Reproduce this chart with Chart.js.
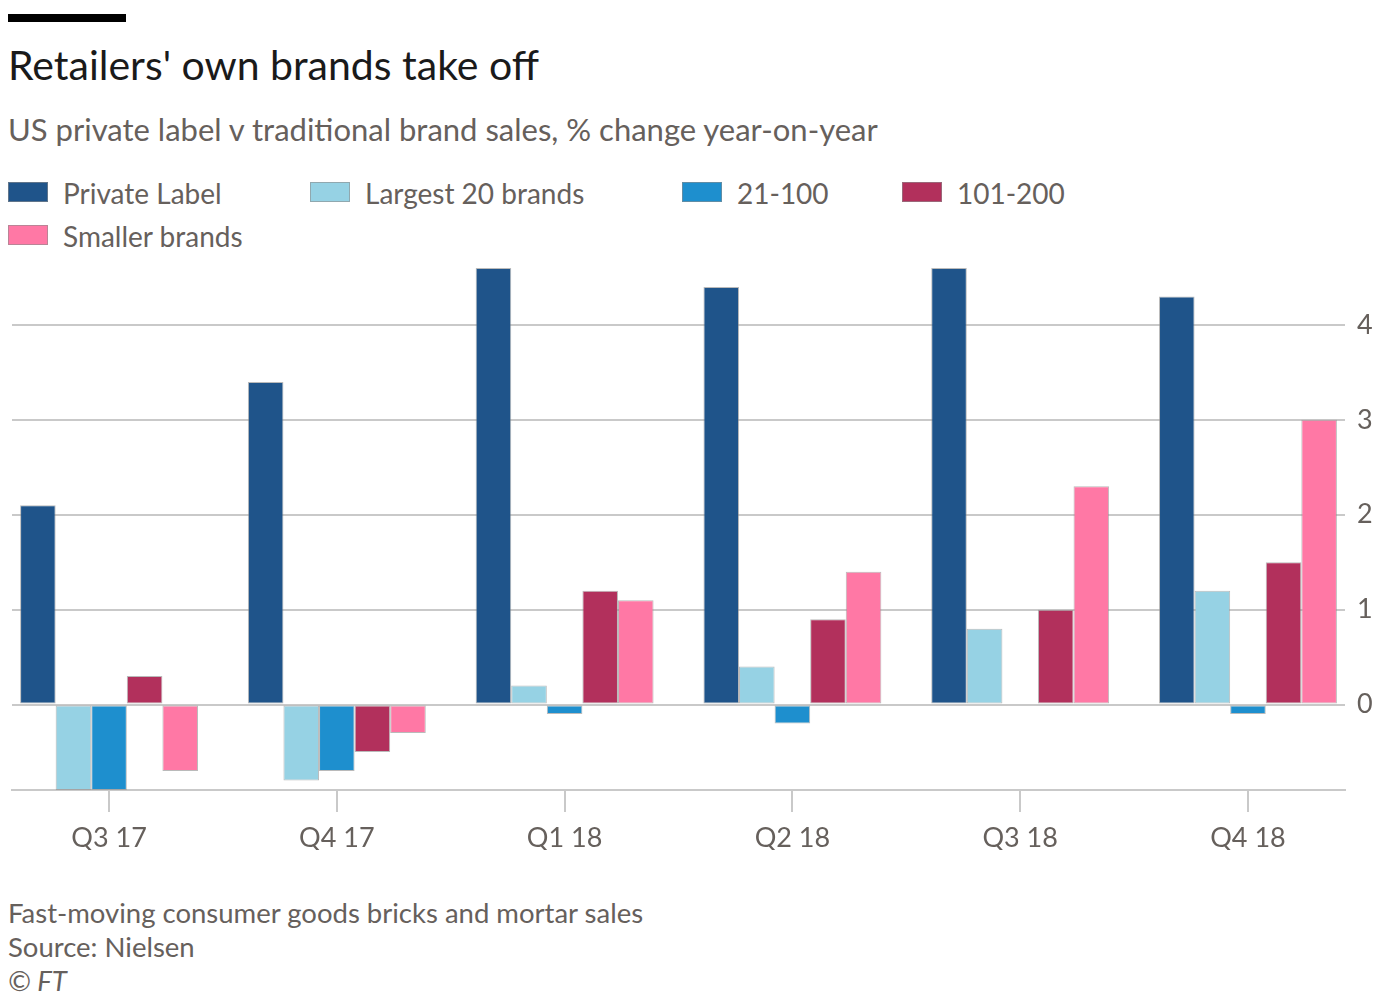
<!DOCTYPE html>
<html>
<head>
<meta charset="utf-8">
<script src="https://cdn.jsdelivr.net/npm/chart.js@4/dist/chart.umd.min.js"></script>
<style>
    body { margin: 0; background: #fff; width: 1378px; height: 993px; position: relative; overflow: hidden;
           font-family: Lato, "Open Sans", sans-serif; color: #66605c; }
    .abs { position: absolute; white-space: nowrap; line-height: 1; }
    #bar { left: 8px; top: 14px; width: 118px; height: 8px; background: #000; }
    #title { left: 8px; top: 44px; font-size: 41px; color: #1a1a1a; }
    #subtitle { left: 8px; top: 114px; font-size: 31px; }
    .key { position: absolute; font-size: 28px; line-height: 1; white-space: nowrap; }
    .key i { position: absolute; left: 0; top: 3px; width: 40px; height: 20px; box-sizing: border-box;
             border: 1px solid rgba(140,140,140,0.6); }
    .key span { position: absolute; left: 55px; top: 0; }
    .note { left: 8px; font-size: 27.5px; }
    #wrap { position: absolute; left: 0; top: 250px; width: 1378px; height: 600px; }
</style>
</head>
<body>
<div id="bar" class="abs"></div>
<div id="title" class="abs">Retailers' own brands take off</div>
<div id="subtitle" class="abs">US private label v traditional brand sales, % change year-on-year</div>
<div id="legend"></div>
<div id="wrap"><canvas id="chart"></canvas></div>
<div class="abs note" style="top:899px">Fast-moving consumer goods bricks and mortar sales</div>
<div class="abs note" style="top:933px">Source: Nielsen</div>
<div class="abs note" style="top:967px; font-style: italic">© FT</div>

<script>
// 季度
const quarters = ['Q3 17', 'Q4 17', 'Q1 18', 'Q2 18', 'Q3 18', 'Q4 18'];

// 同比变化 %
const privateLabel = [2.1, 3.4, 4.6, 4.4, 4.6, 4.3];
const largest20 = [-0.9, -0.8, 0.2, 0.4, 0.8, 1.2];
const brands21to100 = [-0.9, -0.7, -0.1, -0.2, 0, -0.1];
const brands101to200 = [0.3, -0.5, 1.2, 0.9, 1.0, 1.5];
const smallerBrands = [-0.7, -0.3, 1.1, 1.4, 2.3, 3.0];

const yTicks = [0, 1, 2, 3, 4];

const seriesNames = ['Private Label', 'Largest 20 brands', '21-100', '101-200', 'Smaller brands'];
const seriesColors = ['#1f548a', '#96d2e4', '#1e8fce', '#b2305c', '#ff78a5'];
const seriesValues = [privateLabel, largest20, brands21to100, brands101to200, smallerBrands];

// 图例位置 (HTML)
const legendPos = [[8, 179], [310, 179], [682, 179], [902, 179], [8, 222]];
const legendEl = document.getElementById('legend');
seriesNames.forEach((name, i) => {
    const div = document.createElement('div');
    div.className = 'key';
    div.style.left = legendPos[i][0] + 'px';
    div.style.top = legendPos[i][1] + 'px';
    div.innerHTML = `<i style="background:${seriesColors[i]}"></i><span>${name}</span>`;
    legendEl.appendChild(div);
});

const gridColor = '#c9c9c9';
const textColor = '#66605c';

const datasets = seriesNames.map((name, i) => ({
    label: name,
    data: seriesValues[i].map((v, j) => ({ x: j, y: v })),
    backgroundColor: seriesColors[i],
    borderColor: 'rgba(140,140,140,0.6)',
    borderWidth: 1,
    borderSkipped: false,
    categoryPercentage: 0.781,
    barPercentage: 1.0
}));

// 去掉刻度标签带来的额外边距
const noPadding = scale => {
    scale.paddingTop = 0;
    scale.paddingBottom = 0;
    scale.paddingLeft = 0;
    scale.paddingRight = 0;
};

new Chart(document.getElementById('chart'), {
    type: 'bar',
    data: { datasets },
    options: {
        responsive: true,
        maintainAspectRatio: false,
        animation: false,
        layout: { padding: { left: 12, top: 13.25, right: 0, bottom: 0 } },
        plugins: {
            legend: { display: false },
            tooltip: { enabled: false }
        },
        scales: {
            x: {
                type: 'linear',
                offset: false,
                min: -0.426,
                max: 5.426,
                afterBuildTicks: scale => {
                    scale.ticks = quarters.map((q, i) => ({ value: i }));
                },
                afterFit: scale => { scale.height = 60; noPadding(scale); },
                grid: {
                    offset: false,
                    drawOnChartArea: false,
                    drawTicks: true,
                    tickLength: 22,
                    color: gridColor,
                    lineWidth: 2
                },
                border: { display: true, color: gridColor, width: 2 },
                ticks: {
                    padding: 10,
                    color: textColor,
                    font: { family: 'Lato', size: 27 },
                    maxRotation: 0,
                    callback: v => quarters[v]
                }
            },
            y: {
                position: 'right',
                min: -0.9,
                max: 4.65,
                afterBuildTicks: scale => {
                    scale.ticks = yTicks.map(v => ({ value: v }));
                },
                afterFit: scale => { scale.width = 33; noPadding(scale); },
                grid: {
                    color: gridColor,
                    lineWidth: 2,
                    drawTicks: false
                },
                border: { display: false },
                ticks: {
                    padding: 12,
                    color: textColor,
                    font: { family: 'Lato', size: 27 }
                }
            }
        }
    }
});
</script>
</body>
</html>
